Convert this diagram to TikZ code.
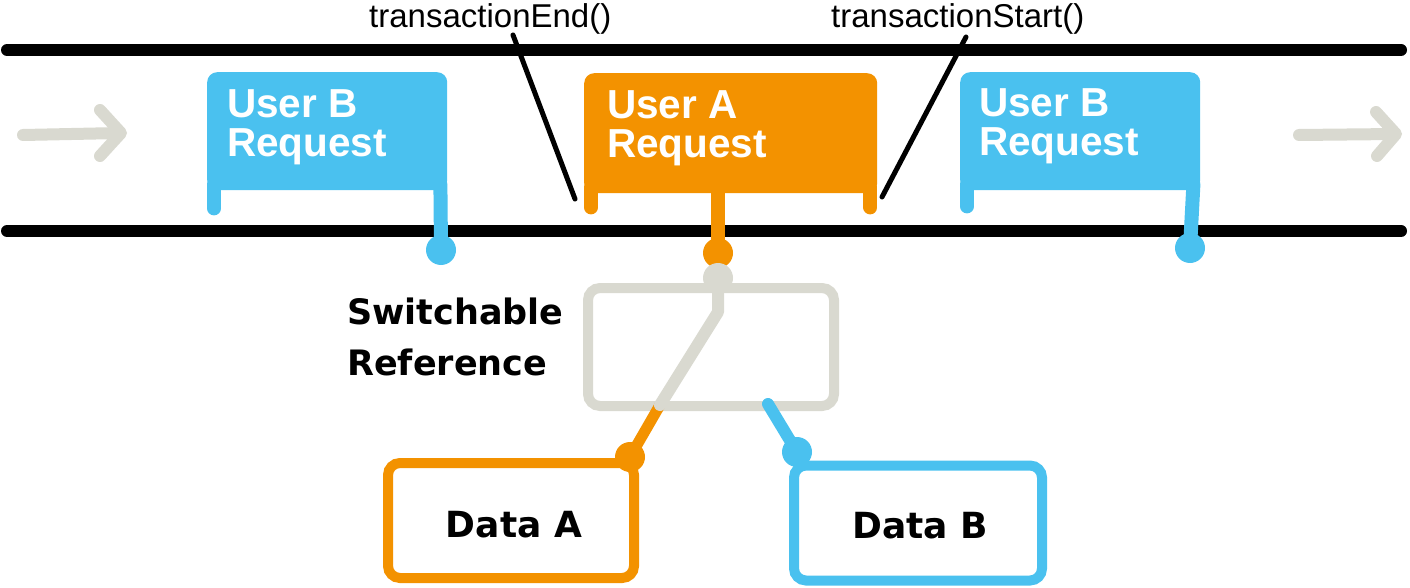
\documentclass[tikz,border=0pt]{standalone}
\usepackage{fontspec}
\setmainfont{Liberation Sans}
\newfontfamily\dvfont{DejaVu Sans}
\usetikzlibrary{calc}
\definecolor{ublue}{HTML}{4AC1EF}
\definecolor{uorange}{HTML}{F39200}
\definecolor{ugray}{HTML}{D9D9D0}
\tikzset{
  rail/.style={line width=12pt, line cap=round, black},
  garrow/.style={line width=12pt, line cap=round, line join=round, ugray},
  reqbox/.style={rectangle, rounded corners=10pt, anchor=north west, inner sep=0pt, draw=none},
  reqtxt/.style={text=white, font=\fontsize{40.5}{40}\selectfont\bfseries, anchor=base west, inner sep=0pt},
  legline/.style={line width=14pt, line cap=round},
  dotnode/.style={circle, minimum size=30pt, inner sep=0pt, draw=none},
  tlabel/.style={font=\fontsize{33}{33}\selectfont, anchor=base west, inner sep=0pt},
  tline/.style={line width=5pt, line cap=round, black},
  databox/.style={rectangle, rounded corners=12pt, line width=10pt, inner sep=0pt},
  boldtxt/.style={font=\dvfont\fontsize{36}{36}\selectfont\bfseries, inner sep=0pt},
  wire/.style={line width=12pt, line cap=round, line join=round}
}
\begin{document}
\begin{tikzpicture}[x=1pt,y=-1pt]
\useasboundingbox (0,0) rectangle (1410,588);
% rails
\draw[rail] (7,50) -- (1401,50);
\draw[rail] (7,231) -- (1401,231);
% arrows
\draw[garrow] (23,135) -- (120,133);
\draw[garrow] (100,110) -- (121,133) -- (100,156);
\draw[garrow] (1299,135) -- (1395,134);
\draw[garrow] (1376,112) -- (1396,134) -- (1377,156);
% transaction labels
\node[tlabel] (te) at (369,28) {transactionEnd()};
\node[tlabel] (ts) at (831,28) {transactionStart()};
\coordinate (te1) at (513,35); \coordinate (te2) at (575,199);
\coordinate (ts1) at (966,37); \coordinate (ts2) at (882,197);
\draw[tline] (te1) -- (te2);
\draw[tline] (ts1) -- (ts2);
% User B request (left)
\node[reqbox, fill=ublue, minimum width=240pt, minimum height=118pt] (b1) at (207,72) {};
\node[reqtxt] (b1t1) at (227,118) {User B};
\node[reqtxt] (b1t2) at (227,157) {Request};
\node[dotnode, fill=ublue] (b1d) at (441,250) {};
\draw[legline, ublue] ($(b1.south west)+(7,-6)$) -- ++(0,24);
\draw[legline, ublue] ($(b1.south east)+(-7,-6)$) -- (b1d.center);
% User A request
\node[reqbox, fill=uorange, minimum width=293pt, minimum height=120pt] (a) at (584,73) {};
\node[reqtxt] (at1) at (607,119) {User A};
\node[reqtxt] (at2) at (607,158) {Request};
\node[dotnode, fill=uorange] (ad) at (718,253) {};
\draw[legline, uorange] ($(a.south west)+(7,-6)$) -- ++(0,20);
\draw[legline, uorange] ($(a.south east)+(-7,-6)$) -- ++(0,20);
\draw[legline, uorange] (a.south -| ad) ++(0,-6) -- (ad.center);
% User B request (right)
\node[reqbox, fill=ublue, minimum width=240pt, minimum height=118pt] (b2) at (960,72) {};
\node[reqtxt] (b2t1) at (979,117) {User B};
\node[reqtxt] (b2t2) at (979,156) {Request};
\node[dotnode, fill=ublue] (b2d) at (1190,248) {};
\draw[legline, ublue] ($(b2.south west)+(7,-6)$) -- ++(0,22);
\draw[legline, ublue] ($(b2.south east)+(-7,-6)$) -- (b2d.center);
% switchable reference
\node[boldtxt, font=\dvfont\fontsize{35}{35}\selectfont\bfseries, anchor=base west] (swl1) at (347,324) {Switchable};
\node[boldtxt, font=\dvfont\fontsize{35}{35}\selectfont\bfseries, anchor=base west] (swl2) at (347,375) {Reference};
\node[databox, draw=ugray, minimum width=246pt, minimum height=118pt] (swb) at (711,347) {};
\node[dotnode, fill=ugray] (sw) at (718,278) {};
% data boxes
\node[databox, draw=uorange, minimum width=246pt, minimum height=115pt] (da) at (511,520.5) {};
\node[boldtxt, anchor=base] (dat) at (514,537) {Data A};
\node[databox, draw=ublue, minimum width=248pt, minimum height=115pt] (db) at (918,523) {};
\node[boldtxt, anchor=base] (dbt) at (920,538) {Data B};
% switch wires
\coordinate (gx) at (660,405);
\coordinate (bx) at (768,404);
\node[dotnode, fill=uorange] (dad) at (630,457) {};
\node[dotnode, fill=ublue] (dbd) at (797,452) {};
\draw[wire, uorange, line width=11pt] (dad.center) -- (gx);
\draw[wire, ugray] (sw.center) -- ++(0,34) -- (gx);
\draw[wire, ublue] (bx) -- (dbd.center);
\end{tikzpicture}
\end{document}
